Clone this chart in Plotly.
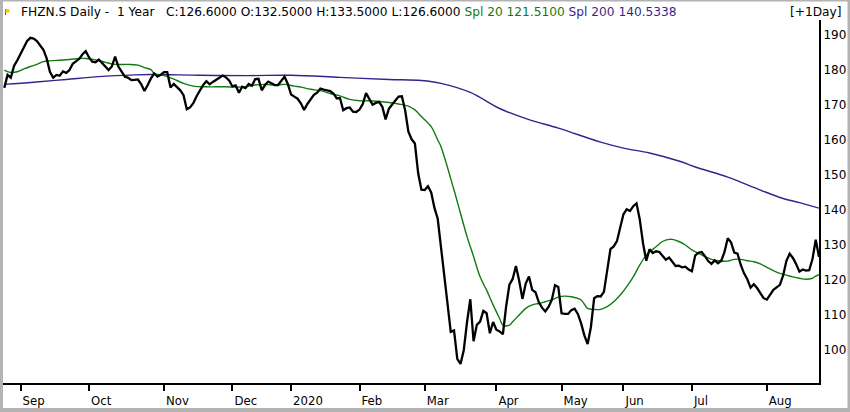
import pandas as pd
import plotly.graph_objects as go

# SIX trading calendar for the shown year
six_holidays = ["2019-12-24", "2019-12-25", "2019-12-26", "2019-12-31",
                "2020-01-01", "2020-01-02", "2020-04-10", "2020-04-13",
                "2020-05-01", "2020-05-21", "2020-06-01"]
dates = pd.bdate_range("2019-08-26", "2020-08-25", freq="C", holidays=six_holidays)
dates = [d.strftime("%Y-%m-%d") for d in dates]

# daily close (one value per session)
close = [
    174.9, 178.6, 177.8, 181.2, 182.8, 184.6, 186.5, 188.3, 189.2, 189.0,
    188.3, 187.1, 185.8, 183.3, 179.5, 177.8, 178.6, 178.4, 179.6, 179.2,
    180.0, 181.8, 182.6, 183.2, 184.5, 185.4, 183.6, 182.4, 182.2, 183.0,
    182.0, 181.0, 180.0, 181.0, 183.8, 181.0, 179.4, 178.1, 177.8, 177.1,
    177.2, 177.3, 176.0, 174.0, 175.7, 177.6, 179.0, 178.1, 178.6, 179.4,
    179.4, 175.0, 176.0, 175.0, 174.2, 172.8, 168.8, 169.3, 170.5, 172.5,
    174.3, 175.7, 176.8, 175.9, 176.6, 177.3, 177.8, 178.4, 177.9, 177.0,
    175.3, 175.6, 173.5, 175.2, 174.8, 176.0, 175.5, 177.4, 177.5, 174.2,
    175.7, 176.7, 176.2, 175.7, 175.7, 177.0, 178.1, 176.0, 173.0, 172.4,
    171.8, 170.5, 168.6, 170.3, 171.7, 172.9, 173.5, 174.7, 174.4, 174.2,
    174.0, 173.3, 171.9, 172.0, 168.5, 169.1, 169.3, 168.1, 168.0, 168.7,
    170.3, 173.4, 171.6, 170.1, 170.6, 170.9, 169.5, 165.9, 168.9, 170.2,
    171.3, 172.4, 172.5, 168.5, 162.4, 160.2, 159.0, 150.5, 145.8, 145.7,
    146.8, 145.0, 140.6, 137.5, 129.5, 120.0, 113.8, 105.2, 105.6, 97.5,
    96.0, 100.0, 108.0, 114.5, 102.5, 107.2, 108.1, 111.2, 110.5, 104.8,
    108.0, 105.8, 105.3, 104.5, 112.5, 118.7, 120.3, 124.0, 119.8, 114.6,
    119.0, 121.0, 117.2, 116.5, 113.7, 112.1, 111.0, 112.3, 114.3, 118.5,
    118.0, 110.5, 110.3, 110.3, 111.4, 111.8, 110.3, 107.6, 104.2, 101.7,
    106.5, 114.8, 115.4, 115.3, 116.6, 122.8, 128.8, 129.6, 131.1, 135.0,
    138.8, 140.2, 139.7, 141.1, 141.9, 137.3, 130.5, 125.5, 128.8, 127.7,
    128.2, 128.0, 126.8, 125.8, 126.4, 125.3, 124.0, 124.1, 123.6, 123.8,
    123.0, 122.5, 127.0, 127.8, 128.0, 126.8, 125.4, 124.6, 125.6, 124.8,
    125.5, 128.0, 131.9, 130.8, 127.8, 127.5, 124.3, 121.9, 120.2, 117.8,
    118.8, 117.7, 116.3, 114.8, 114.4, 115.9, 117.2, 117.9, 118.6, 121.3,
    125.5, 127.5, 126.3, 124.5, 122.4, 123.0, 122.7, 122.8, 126.0, 131.5,
    126.6,
]

# 20-day average, read at selected sessions (session number, value)
spl20_day = [0, 2, 4, 6, 8, 10, 12, 14, 17, 20, 23, 25, 28, 31, 34, 38, 41, 43,
             45, 46, 49, 52, 55, 58, 62, 65, 68, 71, 74, 77, 80, 83, 86, 89, 91,
             94, 97, 100, 103, 106, 109, 112, 115, 118, 121, 124, 126, 128, 131,
             133, 134, 138, 140, 142, 144, 146, 148, 150, 152, 153, 155, 156,
             158, 160, 162, 164, 166, 168, 170, 172, 174, 177, 179, 181, 183,
             185, 187, 189, 191, 193, 195, 197, 200, 202, 204, 205, 207, 209,
             211, 213, 215, 217, 219, 222, 224, 226, 228, 230, 232, 234, 236,
             238, 240, 242, 244, 246, 248, 249, 250]
spl20_val = [180.0, 179.3, 179.5, 180.3, 181.0, 181.6, 182.4, 182.6, 182.8,
             183.0, 183.3, 183.3, 182.9, 182.2, 181.6, 181.6, 181.4, 180.7,
             180.1, 179.0, 178.4, 177.4, 176.2, 175.4, 175.2, 175.2, 175.2,
             175.1, 175.2, 175.7, 175.9, 175.7, 175.9, 175.4, 175.1, 174.5,
             174.1, 173.3, 172.6, 171.6, 171.2, 171.2, 171.0, 170.7, 170.3,
             169.7, 168.6, 166.7, 163.8, 160.0, 158.1, 145.7, 139.0, 132.4,
             126.7, 120.9, 117.1, 112.9, 109.0, 107.1, 107.1, 108.1, 110.0,
             111.9, 112.9, 113.3, 113.8, 114.3, 115.1, 115.4, 115.2, 114.3,
             111.9, 111.6, 111.6, 112.4, 113.8, 115.7, 118.1, 120.9, 124.3,
             127.1, 129.5, 131.0, 131.6, 131.6, 131.0, 130.0, 128.6, 127.6,
             126.7, 125.9, 125.5, 125.4, 125.9, 125.9, 125.5, 125.2, 124.6,
             123.6, 122.7, 121.9, 121.4, 120.9, 120.5, 120.2, 120.5, 121.1,
             121.51]

# 200-day average
spl200_day = [0, 9, 19, 29, 40, 45, 60, 75, 88, 103, 118, 128, 134, 143, 152,
              161, 170, 183, 190, 198, 207, 213, 222, 232, 239, 244, 250]
spl200_val = [175.9, 176.5, 177.3, 178.1, 178.6, 178.7, 178.5, 178.4, 178.5,
              177.9, 177.3, 177.0, 176.2, 173.6, 169.0, 165.8, 163.4, 159.4,
              157.7, 156.3, 154.0, 152.0, 149.4, 145.7, 143.3, 142.1, 140.53]

month_labels = ["Sep", "Oct", "Nov", "Dec", "2020", "Feb", "Mar", "Apr",
                "May", "Jun", "Jul", "Aug"]
y_ticks = [100, 110, 120, 130, 140, 150, 160, 170, 180, 190]

# first session of each month from September on
month_starts = []
seen = set()
for d in dates:
    ym = d[:7]
    if ym not in seen:
        seen.add(ym)
        month_starts.append(d)
month_starts = month_starts[1:]

BLACK = "#000000"
GREEN = "#127a12"
PURPLE = "#3b1f8e"
FONT = "DejaVu Sans"

fig = go.Figure()
fig.add_trace(go.Scatter(x=[dates[i] for i in spl200_day], y=spl200_val,
                         mode="lines", line=dict(color=PURPLE, width=1.4, shape="spline")))
fig.add_trace(go.Scatter(x=[dates[i] for i in spl20_day], y=spl20_val,
                         mode="lines", line=dict(color=GREEN, width=1.4, shape="spline")))
fig.add_trace(go.Scatter(x=dates, y=close, mode="lines",
                         line=dict(color=BLACK, width=2.3)))

W, H = 850, 412
L, R, T, B = 3, 31, 20, 29
pw, ph = W - L - R, H - T - B


def px(x):
    return (x - L) / pw


def py(y):
    return (H - B - y) / ph


title = ("FHZN.S Daily -&nbsp;&nbsp;1 Year&nbsp;&nbsp;&nbsp;C:126.6000 O:132.5000 "
         "H:133.5000 L:126.6000 "
         f"<span style='color:{GREEN}'>Spl 20 121.5100</span> "
         f"<span style='color:{PURPLE}'>Spl 200 140.5338</span>")

border = "#b3b3b3"
shapes = [
    dict(type="rect", xref="paper", yref="paper", x0=px(0), x1=px(3), y0=py(H), y1=py(0),
         fillcolor=border, line_width=0),
    dict(type="rect", xref="paper", yref="paper", x0=px(847.5), x1=px(W), y0=py(H), y1=py(0),
         fillcolor=border, line_width=0),
    dict(type="rect", xref="paper", yref="paper", x0=px(0), x1=px(W), y0=py(1.5), y1=py(0),
         fillcolor=border, line_width=0),
    dict(type="rect", xref="paper", yref="paper", x0=px(0), x1=px(W), y0=py(H), y1=py(408),
         fillcolor=border, line_width=0),
    # little flag icon
    dict(type="line", xref="paper", yref="paper", x0=px(5.5), x1=px(5.5), y0=py(15), y1=py(9),
         line=dict(color="#555555", width=1)),
    dict(type="rect", xref="paper", yref="paper", x0=px(5.5), x1=px(9.5), y0=py(12.5), y1=py(9),
         fillcolor="#e6d200", line_width=0),
]

fig.update_layout(
    width=W, height=H,
    margin=dict(l=L, r=R, t=T, b=B),
    paper_bgcolor="white", plot_bgcolor="white",
    showlegend=False,
    font=dict(family=FONT, color=BLACK, size=12),
    shapes=shapes,
    annotations=[
        dict(text=title, xref="paper", yref="paper", x=px(19), y=py(12),
             xanchor="left", yanchor="middle", showarrow=False,
             font=dict(family=FONT, size=12.2, color=BLACK)),
        dict(text="[+1Day]", xref="paper", yref="paper", x=px(844), y=py(12),
             xanchor="right", yanchor="middle", showarrow=False,
             font=dict(family=FONT, size=12.2, color=BLACK)),
    ],
    xaxis=dict(
        type="category", categoryorder="array", categoryarray=dates,
        range=[-0.4, 250.0],
        tickvals=month_starts, ticktext=month_labels,
        ticks="outside", ticklen=6, tickwidth=2, tickcolor=BLACK,
        ticklabelposition="outside right", ticklabelstandoff=4,
        tickfont=dict(family="Liberation Sans Narrow, DejaVu Sans Condensed, " + FONT, size=13),
        showline=True, linecolor=BLACK, linewidth=2,
        showgrid=False, zeroline=False, fixedrange=True,
    ),
    yaxis=dict(
        side="right", range=[90.57, 194.29],
        tickvals=y_ticks, ticks="", ticklen=0,
        tickfont=dict(family=FONT, size=12),
        showline=True, linecolor=BLACK, linewidth=2,
        showgrid=False, zeroline=False, fixedrange=True,
    ),
)

# the page has a default body margin; drop it so the figure sits at the corner
fig.write_html("out.html", config={"displayModeBar": False},
               post_script="document.body.style.margin='0';")
